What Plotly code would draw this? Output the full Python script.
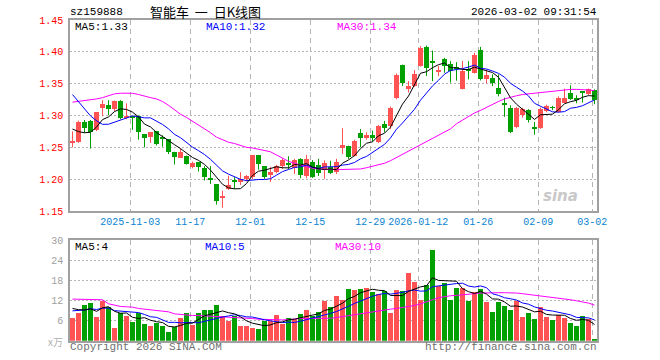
import plotly.graph_objects as go

# ---------------- data ----------------
tick_idx = [10, 20, 30, 40, 50, 58, 68, 78, 87]
tick_labels = ["2025-11-03", "11-17", "12-01", "12-15", "12-29",
               "2026-01-12", "01-26", "02-09", "03-02"]

opens = [1.258, 1.259, 1.2895, 1.291, 1.277, 1.312, 1.316, 1.310, 1.3225, 1.296,
         1.299, 1.300, 1.271, 1.2665, 1.2755, 1.264, 1.263, 1.243, 1.234, 1.237,
         1.219, 1.2265, 1.217, 1.2025, 1.192, 1.170, 1.185, 1.1965, 1.196, 1.1995,
         1.204, 1.238, 1.2205, 1.207, 1.212, 1.2205, 1.2242, 1.217, 1.2318, 1.2055,
         1.2265, 1.222, 1.215, 1.219, 1.211, 1.249, 1.2526, 1.237, 1.2724, 1.264,
         1.2693, 1.2588, 1.2864, 1.2828, 1.3271, 1.380, 1.3411, 1.3463, 1.3776, 1.4073,
         1.386, 1.3693, 1.388, 1.3802, 1.375, 1.3422, 1.372, 1.3672, 1.4036, 1.3568,
         1.3594, 1.3427, 1.320, 1.3125, 1.2812, 1.3005, 1.3083, 1.2806, 1.2797, 1.3073,
         1.3125, 1.3057, 1.3203, 1.3359, 1.3258, 1.3362, 1.3333, 1.3396]
highs = [1.275, 1.292, 1.293, 1.293, 1.305, 1.324, 1.324, 1.3235, 1.324, 1.319,
         1.2995, 1.300, 1.271, 1.274, 1.2755, 1.269, 1.263, 1.243, 1.2485, 1.237,
         1.2275, 1.227, 1.2205, 1.2205, 1.192, 1.182, 1.2055, 1.203, 1.211, 1.2065,
         1.238, 1.238, 1.2205, 1.219, 1.2225, 1.233, 1.236, 1.232, 1.233, 1.238,
         1.230, 1.232, 1.2295, 1.229, 1.232, 1.280, 1.2526, 1.262, 1.2786, 1.2734,
         1.2765, 1.2849, 1.2916, 1.314, 1.366, 1.380, 1.3542, 1.3713, 1.4089, 1.4099,
         1.402, 1.378, 1.3906, 1.3854, 1.3838, 1.3854, 1.3854, 1.3984, 1.4078, 1.3724,
         1.3646, 1.3646, 1.328, 1.316, 1.3135, 1.312, 1.310, 1.290, 1.3125, 1.317,
         1.3151, 1.330, 1.3422, 1.3474, 1.3318, 1.3385, 1.3422, 1.3411]
lows = [1.250, 1.257, 1.273, 1.248, 1.2755, 1.299, 1.3005, 1.307, 1.294, 1.294,
        1.2775, 1.262, 1.250, 1.257, 1.253, 1.251, 1.2395, 1.223, 1.234, 1.223,
        1.217, 1.212, 1.198, 1.1925, 1.160, 1.155, 1.183, 1.185, 1.191, 1.1965,
        1.200, 1.215, 1.2005, 1.1955, 1.2095, 1.216, 1.216, 1.208, 1.2015, 1.2015,
        1.202, 1.205, 1.2005, 1.208, 1.208, 1.2395, 1.2317, 1.2355, 1.250, 1.262,
        1.259, 1.2567, 1.2734, 1.2786, 1.3255, 1.3464, 1.336, 1.345, 1.3766, 1.362,
        1.354, 1.362, 1.367, 1.3516, 1.3547, 1.341, 1.3568, 1.366, 1.355, 1.3505,
        1.3463, 1.330, 1.298, 1.2724, 1.280, 1.2965, 1.289, 1.2698, 1.279, 1.305,
        1.3083, 1.3047, 1.3203, 1.3245, 1.3193, 1.3203, 1.332, 1.3177]
closes = [1.259, 1.2895, 1.281, 1.274, 1.305, 1.318, 1.311, 1.3225, 1.296, 1.300,
          1.297, 1.2745, 1.265, 1.274, 1.256, 1.2635, 1.242, 1.2355, 1.243, 1.2245,
          1.2255, 1.219, 1.204, 1.198, 1.165, 1.174, 1.191, 1.196, 1.1995, 1.205,
          1.238, 1.224, 1.204, 1.211, 1.2205, 1.230, 1.2236, 1.230, 1.207, 1.2318,
          1.203, 1.2095, 1.2255, 1.210, 1.2265, 1.2536, 1.2354, 1.260, 1.264, 1.2693,
          1.2645, 1.2828, 1.2802, 1.3119, 1.363, 1.3516, 1.3463, 1.3646, 1.4063, 1.375,
          1.383, 1.3703, 1.3776, 1.3698, 1.374, 1.3698, 1.370, 1.3958, 1.3568, 1.363,
          1.3516, 1.3333, 1.318, 1.2734, 1.3125, 1.3099, 1.2932, 1.2802, 1.3099, 1.3151,
          1.312, 1.3281, 1.327, 1.3265, 1.3255, 1.3359, 1.3411, 1.3239]
# closes of the 9 sessions before the visible window (estimated from the MA start)
prior_closes = [1.40, 1.39, 1.39, 1.38, 1.375, 1.31, 1.29, 1.27, 1.265]

ma30_price = [1.321, 1.322, 1.323, 1.324, 1.326, 1.328, 1.331, 1.334, 1.335, 1.335,
              1.335, 1.333, 1.330, 1.328, 1.326, 1.322, 1.316, 1.309, 1.302, 1.297,
              1.291, 1.286, 1.280, 1.273, 1.266, 1.262, 1.258, 1.256, 1.253, 1.250,
              1.249, 1.247, 1.246, 1.243, 1.238, 1.233, 1.228, 1.225, 1.222, 1.219,
              1.217, 1.216, 1.215, 1.215, 1.215, 1.215, 1.215, 1.215, 1.216, 1.218,
              1.220, 1.222, 1.225, 1.229, 1.234, 1.239, 1.244, 1.249, 1.253, 1.258,
              1.263, 1.269, 1.274, 1.279, 1.287, 1.293, 1.298, 1.304, 1.308, 1.313,
              1.318, 1.322, 1.326, 1.329, 1.331, 1.333, 1.334, 1.335, 1.336, 1.337,
              1.338, 1.339, 1.341, 1.341, 1.341, 1.341, 1.340, 1.339]

volumes = [6.7, 8.2, 10.6, 11.2, 7.0, 11.9, 10.0, 3.7, 8.3, 7.4,
           5.5, 8.2, 4.9, 4.5, 5.2, 4.3, 2.5, 4.0, 6.7, 8.4,
           4.6, 8.4, 9.0, 9.0, 10.5, 7.4, 5.8, 7.4, 4.5, 4.5,
           3.9, 3.6, 5.8, 5.8, 7.7, 5.1, 6.9, 6.6, 8.1, 9.0,
           7.5, 8.7, 11.8, 10.0, 13.3, 12.0, 15.5, 15.2, 15.5, 15.8,
           14.6, 14.0, 14.7, 8.3, 15.2, 14.9, 20.3, 17.6, 12.2, 16.7,
           26.9, 16.4, 17.3, 12.2, 15.8, 15.8, 11.9, 14.6, 15.5, 11.6,
           8.6, 11.6, 10.4, 9.2, 11.9, 7.1, 8.3, 6.5, 10.1, 7.1,
           6.2, 7.7, 6.8, 5.3, 4.4, 7.4, 6.5, 0.5]
prior_volumes = [8.0, 8.5, 7.5, 9.0, 8.0, 10.0, 11.0, 9.5, 10.8]

ma30_vol = [12.4, 12.4, 12.4, 12.4, 12.3, 12.2, 11.0, 10.5, 10.2, 10.1,
            10.0, 9.6, 9.4, 9.3, 9.2, 9.0, 8.6, 8.0, 7.8, 7.6,
            7.5, 7.5, 7.4, 7.4, 7.4, 7.3, 7.2, 7.0, 6.9, 6.8,
            6.6, 6.4, 6.3, 6.2, 6.2, 6.2, 6.3, 6.5, 6.6, 6.6,
            6.6, 6.6, 6.7, 6.7, 6.9, 7.2, 7.4, 7.7, 8.0, 8.3,
            8.6, 8.9, 9.2, 9.4, 9.6, 9.9, 10.1, 10.5, 11.0, 11.5,
            12.2, 12.8, 13.2, 13.4, 13.5, 13.6, 13.8, 14.0, 14.2, 14.3,
            14.3, 14.3, 14.3, 14.3, 14.2, 14.0, 13.8, 13.5, 13.3, 13.1,
            12.9, 12.6, 12.4, 12.2, 11.9, 11.6, 11.2, 10.6]

price_ticks = [1.15, 1.20, 1.25, 1.30, 1.35, 1.40, 1.45]
vol_ticks = [6, 12, 18, 24, 30]

# ---------------- helpers ----------------
W, H = 660, 360
def px(x): return x / W
def py(y): return 1 - y / H

def moving_avg(prior, vals, n):
    full = prior + vals
    off = len(prior)
    return [sum(full[off + i - n + 1: off + i + 1]) / n for i in range(len(vals))]

N = len(closes)
xs = list(range(N))
RED, GREEN = "#FF5252", "#00A000"
up = [c >= o for o, c in zip(opens, closes)]
cols = [RED if u else GREEN for u in up]

ma5 = moving_avg(prior_closes, closes, 5)
ma10 = moving_avg(prior_closes, closes, 10)
vma5 = moving_avg(prior_volumes, volumes, 5)
vma10 = moving_avg(prior_volumes, volumes, 10)

fig = go.Figure()

# wicks
for colr, flag in ((RED, True), (GREEN, False)):
    wx, wy = [], []
    for i in xs:
        if up[i] == flag:
            wx += [i, i, None]
            wy += [lows[i], highs[i], None]
    fig.add_trace(go.Scatter(x=wx, y=wy, mode="lines", line=dict(color=colr, width=1),
                             xaxis="x", yaxis="y", hoverinfo="skip", showlegend=False))

# bodies
base = [min(o, c) for o, c in zip(opens, closes)]
hgt = [max(abs(c - o), 0.0012) for o, c in zip(opens, closes)]
fig.add_trace(go.Bar(x=xs, y=hgt, base=base, width=0.75, marker=dict(color=cols, line=dict(width=0)),
                     xaxis="x", yaxis="y", showlegend=False))

# MA lines price
for series, colr in ((ma30_price, "#FF00FF"), (ma10, "#0000FF"), (ma5, "#000000")):
    fig.add_trace(go.Scatter(x=xs, y=series, mode="lines", line=dict(color=colr, width=1),
                             xaxis="x", yaxis="y", showlegend=False))

# volume bars
fig.add_trace(go.Bar(x=xs, y=volumes, width=0.8, marker=dict(color=cols, line=dict(width=0)),
                     xaxis="x2", yaxis="y2", showlegend=False))
for series, colr in ((ma30_vol, "#FF00FF"), (vma10, "#0000FF"), (vma5, "#000000")):
    fig.add_trace(go.Scatter(x=xs, y=series, mode="lines", line=dict(color=colr, width=1),
                             xaxis="x2", yaxis="y2", showlegend=False))

xrange = [-0.4167, N - 1 + 0.4167]
tvals = [t - 0.37 for t in tick_idx]
MONO = "Liberation Mono"
GRID = "#B4B4B4"
BORDER = "#A0A0A0"

common_x = dict(domain=[px(70), px(597)], range=xrange, tickvals=tvals,
                showgrid=True, gridcolor=GRID, griddash="5px,4px", gridwidth=1,
                zeroline=False, showline=True, mirror=True, linecolor=BORDER, linewidth=1.5,
                ticks="", fixedrange=True, automargin=False, tickangle=0)

common_y = dict(showgrid=True, gridcolor=GRID, griddash="2px,2px", gridwidth=1,
                zeroline=False, showline=True, mirror=True, linecolor=BORDER, linewidth=1.5,
                ticks="", fixedrange=True, automargin=False, ticklabelstandoff=3)

fig.update_layout(
    width=W, height=H, margin=dict(l=0, r=0, t=0, b=0, autoexpand=False),
    paper_bgcolor="white", plot_bgcolor="white",
    barmode="overlay", bargap=0,
    xaxis=dict(**common_x, anchor="y", ticktext=tick_labels,
               tickfont=dict(family=MONO, size=10, color="#0A84D0")),
    xaxis2=dict(**common_x, anchor="y2", showticklabels=False),
    yaxis=dict(**common_y, domain=[py(211), py(20)], range=[1.15, 1.45], tickvals=price_ticks,
               ticktext=[f"{v:.2f}" for v in price_ticks],
               tickfont=dict(family=MONO, size=10, color="#FF0000"), anchor="x"),
    yaxis2=dict(**common_y, domain=[py(340.7), py(240)], range=[0, 30], tickvals=vol_ticks,
                ticktext=[str(v) for v in vol_ticks],
                tickfont=dict(family=MONO, size=10, color="#A0A0A0"), anchor="x2"),
)

def note(text, x, y, anchor="left", color="#000000", size=10, family=MONO, **kw):
    fig.add_annotation(text=text, x=px(x), y=py(y), xref="paper", yref="paper",
                       xanchor=anchor, yanchor="middle", showarrow=False,
                       font=dict(family=family, size=size, color=color), borderpad=0, **kw)

note("sz159888", 69, 12, size=11)
note("智能车&nbsp;&nbsp;一&nbsp;&nbsp;日K线图", 149, 12, family="Noto Sans CJK SC", size=13)
note("2026-03-02 09:31:54", 598, 12, anchor="right", size=11)
note("MA5:1.33", 74, 27, size=11)
note("MA10:1.32", 205, 27, color="#0000FF", size=11)
note("MA30:1.34", 336, 27, color="#FF00FF", size=11)
note("MA5:4", 74, 247, size=11)
note("MA10:5", 204, 247, color="#0000FF", size=11)
note("MA30:10", 334, 247, color="#FF00FF", size=11)
note("x万", 64, 341, anchor="right", color="#B0B0B0", size=10, family="Noto Sans CJK SC")
note("Copyright 2026 SINA.COM", 69, 347, color="#707070", size=11)
note("http://finance.sina.com.cn", 598, 347, anchor="right", color="#707070", size=11)
fig.add_annotation(text="<b><i>sina</i></b>", x=px(580), y=py(196), xref="paper", yref="paper",
                   showarrow=False, font=dict(family="DejaVu Sans", size=15, color="#C8C8C8"))

fig.write_html("out.html")
